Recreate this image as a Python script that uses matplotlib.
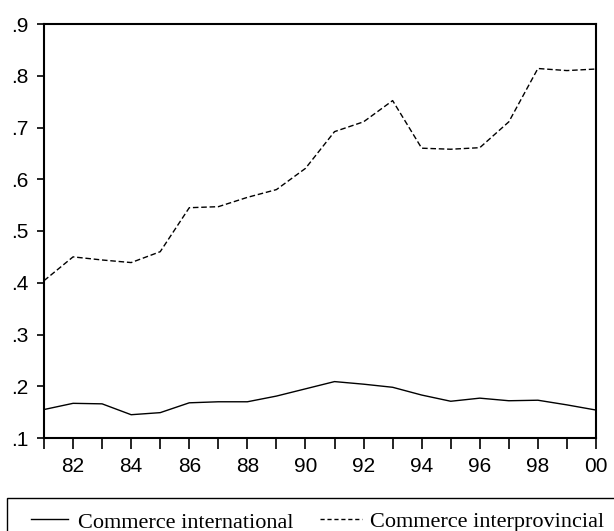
"""
Commerce international vs interprovincial, 1981-2000 (style EViews)
"""

import matplotlib
matplotlib.use('Agg')
import matplotlib.pyplot as plt
from matplotlib.patches import Rectangle
from matplotlib.lines import Line2D

years = list(range(1981, 2001))

commerce_international = [0.155, 0.167, 0.166, 0.145, 0.149, 0.168, 0.170, 0.170, 0.181, 0.195,
                          0.209, 0.204, 0.198, 0.183, 0.171, 0.177, 0.172, 0.173, 0.164, 0.154]
commerce_interprovincial = [0.404, 0.450, 0.444, 0.439, 0.460, 0.545, 0.547, 0.565, 0.580, 0.621,
                            0.692, 0.711, 0.752, 0.660, 0.658, 0.661, 0.711, 0.814, 0.810, 0.813]

y_ticks = [0.1, 0.2, 0.3, 0.4, 0.5, 0.6, 0.7, 0.8, 0.9]
y_labels = ['.1', '.2', '.3', '.4', '.5', '.6', '.7', '.8', '.9']
legend_labels = ['Commerce international', 'Commerce interprovincial']

W, H = 614, 531


def main():
    fig = plt.figure(figsize=(W / 100, H / 100), dpi=100)
    ax = fig.add_axes([44 / W, 1 - 438 / H, 552 / W, 414 / H])

    ax.plot(years, commerce_international, color='black', lw=1.0)
    ax.plot(years, commerce_interprovincial, color='black', lw=1.0, dashes=(4, 2))

    ax.set_xlim(1981, 2000)
    ax.set_ylim(0.1, 0.9)

    # ticks chaque année, étiquettes années paires
    ax.set_xticks(years)
    ax.set_xticklabels([f'{y % 100:02d}' if y % 2 == 0 else '' for y in years])
    ax.set_yticks(y_ticks)
    ax.set_yticklabels(y_labels)

    for side in ax.spines.values():
        side.set_linewidth(1.5)
    ax.tick_params(axis='x', direction='out', length=8, width=1.2, pad=6,
                   labelsize=15, labelfontfamily='Liberation Sans')
    ax.tick_params(axis='y', direction='out', length=5, width=1.2, pad=6,
                   labelsize=15, labelfontfamily='Liberation Sans')

    # légende encadrée, coupée en bas comme l'original
    fig.patches.append(Rectangle((7 / W, -0.2), 1.2, 0.2 + (H - 498) / H,
                                 transform=fig.transFigure, fill=False,
                                 edgecolor='black', lw=1.0))
    ly = (H - 519) / H
    fig.lines.append(Line2D([31 / W, 68 / W], [ly, ly], transform=fig.transFigure,
                            color='black', lw=1.0))
    fig.lines.append(Line2D([320 / W, 362 / W], [ly, ly], transform=fig.transFigure,
                            color='black', lw=1.0, dashes=(3, 2)))
    ty = (H - 527.5) / H
    fig.text(78 / W, ty, legend_labels[0], family='Liberation Serif', fontsize=16,
             va='baseline', ha='left')
    fig.text(370 / W, ty, legend_labels[1], family='Liberation Serif', fontsize=16,
             va='baseline', ha='left')

    fig.savefig('out.png', dpi=100)
    plt.close(fig)


if __name__ == '__main__':
    main()
